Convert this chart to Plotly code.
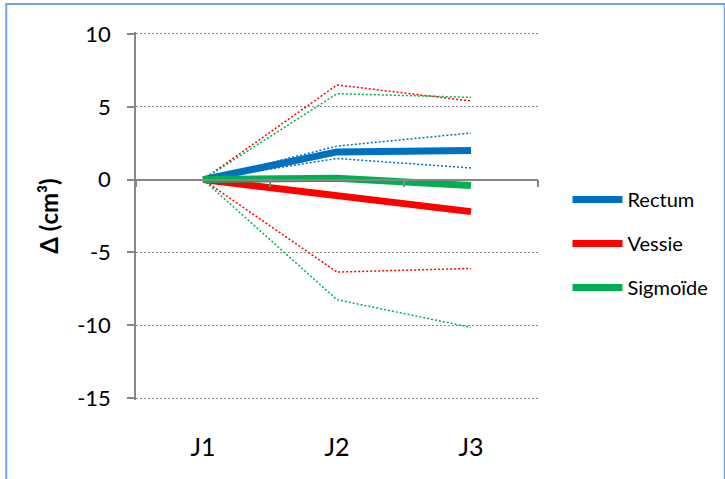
import plotly.graph_objects as go

# Données
categories = ['J1', 'J2', 'J3']

rectum = [0, 1.9, 2.0]
rectum_haut = [0, 2.3, 3.2]
rectum_bas = [0, 1.45, 0.8]

vessie = [0, -1.15, -2.2]
vessie_haut = [0, 6.5, 5.4]
vessie_bas = [0, -6.35, -6.1]

sigmoide = [0, 0.1, -0.4]
sigmoide_haut = [0, 5.9, 5.65]
sigmoide_bas = [0, -8.25, -10.15]

y_ticks = [10, 5, 0, -5, -10, -15]
y_labels = ['10', '5', '0', '-5', '-10', '-15']

COLORS = {
    'rectum': '#0070C0',
    'vessie': '#FF0000',
    'sigmoide': '#00B050',
    'axe': '#868686',
    'grille': '#8C8C8C',
    'bord': '#6FA4DC',
}
FONT = 'Lato, Carlito, Calibri, sans-serif'

# marges fixes (px) ; 2 px de marge dans la plage y pour garder les grilles extrêmes
W, H = 725, 479
ML, MR, MT, MB = 136, 180, 32, 79
PW, PH = W - ML - MR, H - MT - MB
Y_MIN, Y_MAX = -15.137, 10.137

fig = go.Figure()

# courbes pointillées (bornes)
for vals, col in [(rectum_haut, 'rectum'), (rectum_bas, 'rectum'),
                  (vessie_haut, 'vessie'), (vessie_bas, 'vessie'),
                  (sigmoide_haut, 'sigmoide'), (sigmoide_bas, 'sigmoide')]:
    fig.add_trace(go.Scatter(
        x=categories, y=vals, mode='lines', showlegend=False,
        line=dict(color=COLORS[col], width=1.5, dash='2px,2px'),
        hoverinfo='skip'
    ))

# courbes principales
for vals, nom, col in [(rectum, 'Rectum', 'rectum'),
                       (vessie, 'Vessie', 'vessie'),
                       (sigmoide, 'Sigmoïde', 'sigmoide')]:
    fig.add_trace(go.Scatter(
        x=categories, y=vals, mode='lines', name=nom, legendgroup=nom,
        line=dict(color=COLORS[col], width=7),
        hovertemplate='%{x}<br>' + nom + ': %{y:.2f} cm³<extra></extra>'
    ))

# trace vide pour l'axe des étiquettes
fig.add_trace(go.Scatter(x=categories, y=[None] * 3, xaxis='x2',
                         showlegend=False, hoverinfo='skip'))

# cadre du graphique (bords gauche et haut visibles)
fig.add_shape(type='rect', xref='paper', yref='paper',
              x0=(4 - ML) / PW, x1=(735 - ML) / PW,
              y0=(MT + PH - 490) / PH, y1=(MT + PH - 4) / PH,
              line=dict(color=COLORS['bord'], width=2), layer='below')

fig.update_layout(
    width=W, height=H,
    margin=dict(l=ML, r=MR, t=MT, b=MB),
    plot_bgcolor='white', paper_bgcolor='white',
    font=dict(family=FONT, color='black'),
    xaxis=dict(
        type='category', range=[-0.5, 2.5],
        anchor='free', position=(0 - Y_MIN) / (Y_MAX - Y_MIN),
        showline=True, linecolor=COLORS['axe'], linewidth=1.5,
        ticks='outside', tickson='boundaries', ticklen=7,
        tickcolor=COLORS['axe'], tickwidth=1.5,
        showticklabels=False, showgrid=False, zeroline=False,
    ),
    xaxis2=dict(
        type='category', range=[-0.5, 2.5], overlaying='x', matches='x',
        anchor='y', side='bottom',
        showline=False, ticks='', showgrid=False, zeroline=False,
        tickfont=dict(size=25, family=FONT), ticklabelstandoff=30,
    ),
    yaxis=dict(
        range=[Y_MIN, Y_MAX], tickvals=y_ticks, ticktext=y_labels,
        showline=True, linecolor=COLORS['axe'], linewidth=1.5,
        ticks='outside', ticklen=7, tickcolor=COLORS['axe'], tickwidth=1.5,
        showgrid=True, gridcolor=COLORS['grille'], gridwidth=1,
        griddash='2px,2px', zeroline=False,
        tickfont=dict(size=22, family=FONT), ticklabelstandoff=12,
        title=dict(text='<b>Δ (cm³)</b>', font=dict(size=24, family=FONT),
                   standoff=12),
    ),
    legend=dict(
        x=(575 - ML) / PW, xanchor='left',
        y=(MT + PH - 180) / PH, yanchor='top',
        font=dict(size=20, family=FONT), itemwidth=50,
        bgcolor='rgba(0,0,0,0)', tracegroupgap=15,
    ),
    showlegend=True,
)

# page sans marge : la figure occupe toute la fenêtre
fig.write_html('out.html', config={'displayModeBar': False},
               post_script="document.body.style.margin='0';")
